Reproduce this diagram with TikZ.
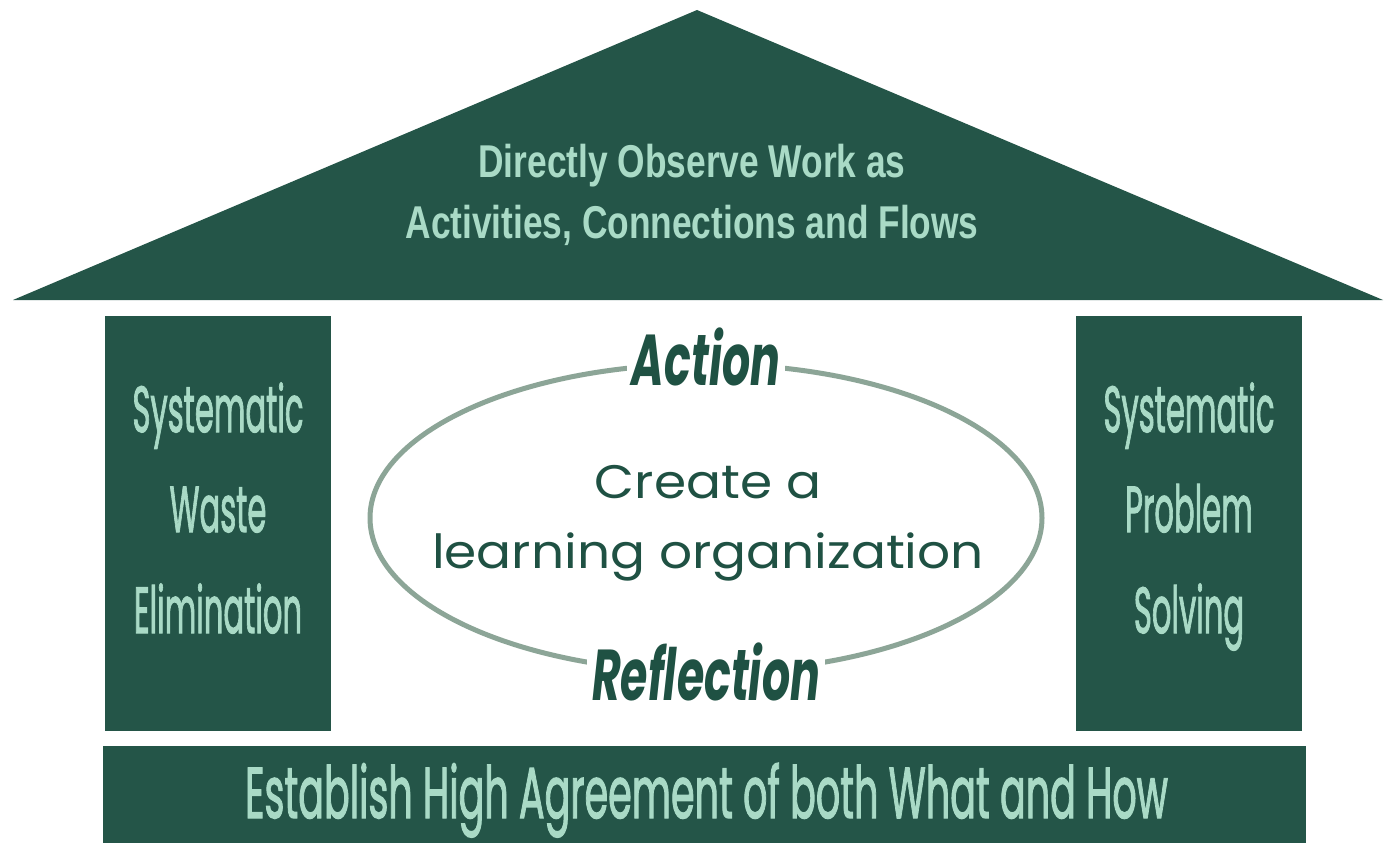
\documentclass[tikz,border=0pt]{standalone}
\usepackage{fontspec}
\usepackage{graphicx}
\setmainfont{Poppins}
\newfontfamily\rooffont{Liberation Sans}
\newfontfamily\pilfont{Poppins}[FakeBold=2]
\newfontfamily\ellfont{Poppins}
\newfontfamily\actfont{Poppins}
\definecolor{house}{HTML}{245548}
\definecolor{mint}{HTML}{A9DAC6}
\definecolor{deep}{HTML}{1F5143}
\definecolor{ringc}{HTML}{8CA597}
\newsavebox\fitbox
\newcommand\fitw[3]{\sbox\fitbox{#2}\pgfmathsetmacro\fitr{#1/(\the\wd\fitbox)}\scalebox{\fitr}[1]{#3}}
\newcommand\roofsz{\rooffont\bfseries\fontsize{46pt}{50pt}\selectfont}
\newcommand\pilsz{\pilfont\fontsize{65pt}{70pt}\selectfont}
\newcommand\basesz{\pilfont\fontsize{72pt}{80pt}\selectfont}
\newcommand\ellsz{\ellfont\fontsize{47pt}{55pt}\selectfont}
\newcommand\actsz{\actfont\bfseries\itshape\fontsize{72pt}{78pt}\selectfont}
\tikzset{
  block/.style={fill=house, draw=none, inner sep=0pt},
  lt/.style={text=mint, inner sep=0pt, anchor=base},
  dk/.style={text=deep, inner sep=0pt, anchor=base},
  gap/.style={text=deep, fill=white, inner ysep=0pt, inner xsep=5pt, anchor=base},
  ring/.style={draw=ringc, line width=5pt}
}
\begin{document}
\begin{tikzpicture}[x=1pt,y=-1pt]
\useasboundingbox (0,0) rectangle (1385,843);
\fill[white] (0,0) rectangle (1385,843);
% roof
\coordinate (roofL) at (13,300);
\coordinate (roofT) at (697,10);
\coordinate (roofR) at (1383,300);
\fill[house] (roofL) -- (roofT) -- (roofR) -- cycle;
% pillars and base
\node[block, minimum width=226pt, minimum height=415pt] (lp) at (218,523.5) {};
\node[block, minimum width=226pt, minimum height=415pt] (rp) at (1189,523.5) {};
\node[block, minimum width=1203pt, minimum height=97pt] (base) at (704.5,794.5) {};
% roof text
\node[lt] (r1) at (692,177) {\roofsz\fitw{573}{Activities, Connections and Flows}{Directly Observe Work as}};
\node[lt] (r2) at (692,238) {\roofsz\fitw{573}{Activities, Connections and Flows}{Activities, Connections and Flows}};
% pillar text
\node[lt] (l1) at (218,432) {\pilsz\fitw{171}{Systematic}{Systematic}};
\node[lt] (l2) at (218,532) {\pilsz\fitw{171}{Systematic}{Waste}};
\node[lt] (l3) at (218,633) {\pilsz\fitw{171}{Systematic}{Elimination}};
\node[lt] (p1) at (1189,432) {\pilsz\fitw{171}{Systematic}{Systematic}};
\node[lt] (p2) at (1189,532) {\pilsz\fitw{171}{Systematic}{Problem}};
\node[lt] (p3) at (1189,633) {\pilsz\fitw{171}{Systematic}{Solving}};
% base text
\node[lt] (bt) at (706.5,818) {\basesz\fitw{923}{Establish High Agreement of both What and How}{Establish High Agreement of both What and How}};
% ring
\node[draw=none, minimum width=672pt, minimum height=308pt, inner sep=0pt] (ringbox) at (706,518) {};
\draw[ring] (ringbox.center) ellipse [x radius=336, y radius=154];
\node[dk] (c1) at (708,498) {\ellsz\fitw{552}{learning organization}{Create a}};
\node[dk] (c2) at (708,568) {\ellsz\fitw{552}{learning organization}{learning organization}};
\node[gap] (act) at (706,385) {\actsz\fitw{228}{Reflection}{Action}};
\node[gap] (ref) at (706,700) {\actsz\fitw{228}{Reflection}{Reflection}};
\end{tikzpicture}
\end{document}
